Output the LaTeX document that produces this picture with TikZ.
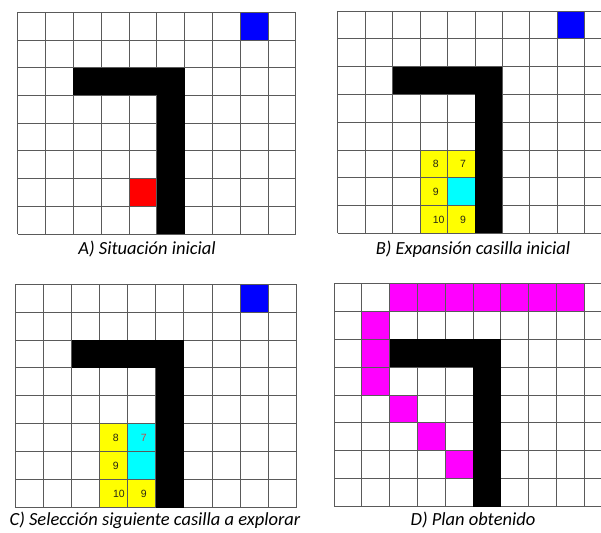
\documentclass[tikz,border=0pt]{standalone}
\usepackage{fontspec}
\setmainfont{Carlito}
\newfontfamily\numfont{Liberation Sans}
\definecolor{gridcol}{RGB}{90,90,90}
\definecolor{numcol}{RGB}{40,40,20}
\definecolor{redsev}{RGB}{200,70,70}
\definecolor{cyanc}{RGB}{0,255,255}
\definecolor{magc}{RGB}{255,0,255}
\definecolor{bluec}{RGB}{0,0,255}
\definecolor{redc}{RGB}{255,0,0}
\definecolor{yelc}{RGB}{255,255,0}
\newcommand{\cellfill}[3]{\fill[#3] (#1,#2) rectangle ++(1,1);}
\newcommand{\obstacle}{\fill[black] (2,2) rectangle (6,3); \fill[black] (5,2) rectangle (6,8);}
\newcommand{\gridlines}{%
  \foreach \i in {0,...,10} {\draw[gridline] (\i,0) -- (\i,8);}
  \foreach \j in {0,...,8} {\draw[gridline] (0,\j) -- (10,\j);}
}
\tikzset{
  gridline/.style={draw=gridcol, line width=0.8pt},
  caption/.style={font=\itshape\fontsize{18.5}{20}\selectfont, inner sep=0pt},
  num/.style={font=\numfont\fontsize{10.5}{12}\selectfont, text=numcol, inner sep=0pt},
}
\begin{document}
\begin{tikzpicture}[x=1pt,y=-1pt]
\clip (0,0) rectangle (601,532);
\fill[white] (0,0) rectangle (601,532);
% ---------- Panel A ----------
\begin{scope}[shift={(17.7,12.3)}, x=27.8pt, y=-27.7pt]
  \cellfill{8}{0}{bluec}
  \cellfill{4}{6}{redc}
  \gridlines
  \obstacle
\end{scope}
\node[caption] (capA) at (147,249) {A) Situación inicial};
% ---------- Panel B ----------
\begin{scope}[shift={(337.7,11)}, x=27.45pt, y=-27.8pt]
  \cellfill{8}{0}{bluec}
  \cellfill{3}{5}{yelc}
  \cellfill{4}{5}{yelc}
  \cellfill{3}{6}{yelc}
  \cellfill{4}{6}{cyanc}
  \cellfill{3}{7}{yelc}
  \cellfill{4}{7}{yelc}
  \gridlines
  \obstacle
  \node[num] (b35) at (3.57,5.5) {8};
  \node[num] (b45) at (4.57,5.5) {7};
  \node[num] (b36) at (3.57,6.5) {9};
  \node[num] (b37) at (3.68,7.5) {10};
  \node[num] (b47) at (4.57,7.5) {9};
\end{scope}
\node[caption] (capB) at (473,249.5) {B) Expansión casilla inicial};
% ---------- Panel C ----------
\begin{scope}[shift={(15.7,284)}, x=28.03pt, y=-27.96pt]
  \cellfill{8}{0}{bluec}
  \cellfill{3}{5}{yelc}
  \cellfill{4}{5}{cyanc}
  \cellfill{3}{6}{yelc}
  \cellfill{4}{6}{cyanc}
  \cellfill{3}{7}{yelc}
  \cellfill{4}{7}{yelc}
  \gridlines
  \obstacle
  \node[num] (c35) at (3.57,5.5) {8};
  \node[num, text=redsev] (c45) at (4.57,5.5) {7};
  \node[num] (c36) at (3.57,6.5) {9};
  \node[num] (c37) at (3.68,7.5) {10};
  \node[num] (c47) at (4.57,7.5) {9};
\end{scope}
\node[caption] (capC) at (155,520) {C) Selección siguiente casilla a explorar};
% ---------- Panel D ----------
\begin{scope}[shift={(334,283.3)}, x=27.8pt, y=-27.9pt]
  \fill[magc] (2,0) rectangle (9,1);
  \fill[magc] (1,1) rectangle (2,4);
  \cellfill{2}{4}{magc}
  \cellfill{3}{5}{magc}
  \cellfill{4}{6}{magc}
  \gridlines
  \obstacle
\end{scope}
\node[caption] (capD) at (473,520) {D) Plan obtenido};
\end{tikzpicture}
\end{document}
